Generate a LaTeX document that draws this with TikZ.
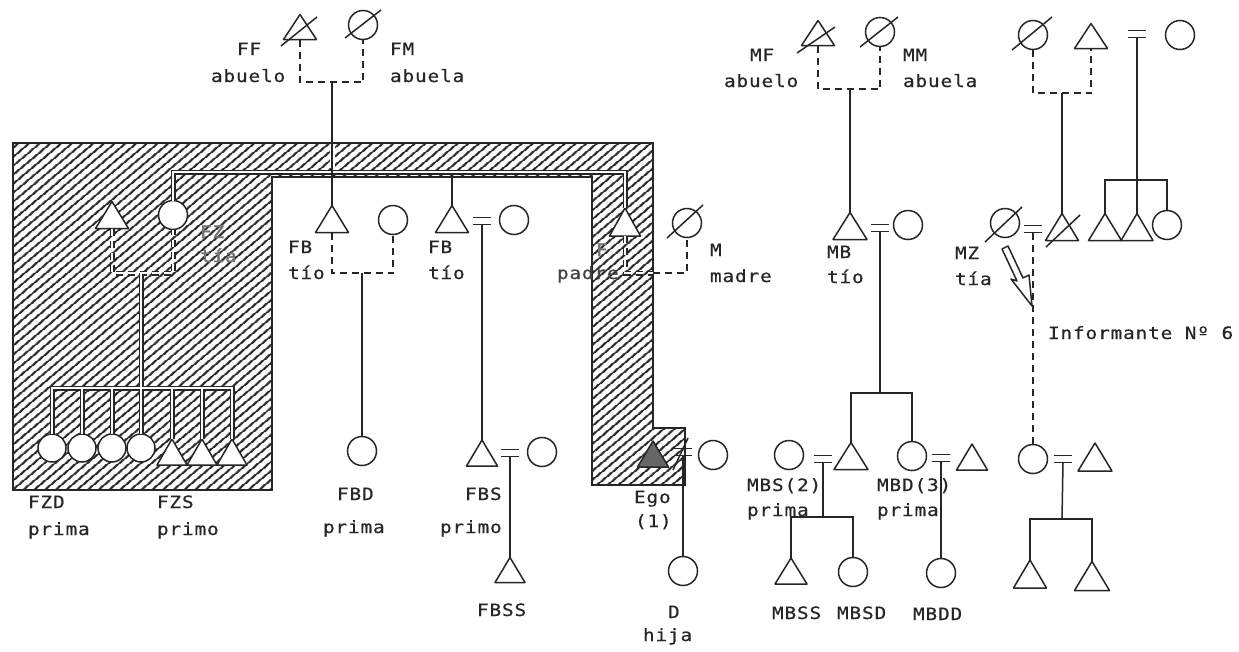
\documentclass[tikz,border=0pt]{standalone}
\usepackage{fontspec}
\newfontfamily\tw[LetterSpace=5,FakeStretch=1.14,FakeBold=0.6]{DejaVu Sans Mono}
\newfontfamily\twb[LetterSpace=5,FakeStretch=1.14,FakeBold=2]{DejaVu Sans Mono}
\usetikzlibrary{calc,patterns.meta}
\begin{document}
\begin{tikzpicture}[x=1pt,y=-1pt,
  every node/.style={inner sep=0pt, outer sep=0pt},
  ln/.style={draw=black!85, line width=1.5pt},
  dsh/.style={ln, dash pattern=on 7pt off 5pt},
  circ/.style={circle, draw=black!85, line width=1.5pt, fill=white, minimum size=29pt},
  tri/.style={minimum width=33pt, minimum height=27pt, append after command={\pgfextra{\pgfinterruptpath
     \draw[draw=black!85, line width=1.5pt, line join=round, fill=white] (\tikzlastnode.north) -- (\tikzlastnode.south east) -- (\tikzlastnode.south west) -- cycle;
     \endpgfinterruptpath}}},
  egotri/.style={minimum width=31pt, minimum height=26pt, append after command={\pgfextra{\pgfinterruptpath
     \draw[draw=black!85, line width=1.5pt, line join=round, fill=black!60] (\tikzlastnode.north) -- (\tikzlastnode.south east) -- (\tikzlastnode.south west) -- cycle;
     \endpgfinterruptpath}}},
  marr/.style={minimum width=18pt, minimum height=7pt, append after command={\pgfextra{\pgfinterruptpath
     \draw[draw=black!85, line width=1.8pt] (\tikzlastnode.north west) -- (\tikzlastnode.north east) (\tikzlastnode.south west) -- (\tikzlastnode.south east);
     \endpgfinterruptpath}}},
  lab/.style={font=\tw\fontsize{17}{20}\selectfont, text=black!85, anchor=base west},
  glab/.style={lab, font=\twb\fontsize{17}{20}\selectfont, text=black!55},
  hatch/.style={pattern={Lines[angle=40,distance=6.5pt,line width=2.1pt]}, pattern color=black!85},
]
\useasboundingbox (0,0) rectangle (1239,651);
\fill[white] (0,0) rectangle (1239,651);

% hatched region
\fill[hatch] (13,143) -- (653,143) -- (653,428) -- (685,428) -- (685,485) -- (592,485) -- (592,177) -- (272,177) -- (272,490) -- (13,490) -- cycle;
\draw[line width=1.5pt, black!85] (13,143) -- (653,143) -- (653,428) -- (685,428) -- (685,485) -- (592,485) -- (592,177) -- (272,177) -- (272,490) -- (13,490) -- cycle;

% ---------- symbols ----------
% grandparents
\node[tri, minimum height=25pt] (ff) at (300,27) {};
\node[circ] (fm) at (363,25) {};
\node[tri, minimum height=25pt] (mf) at (818,33) {};
\node[circ] (mm) at (880,32) {};
\node[circ] (rgm) at (1033,35) {};
\node[tri, minimum height=25pt] (rgf) at (1091,36) {};
\node[marr] (rme) at (1137,34) {};
\node[circ] (rw) at (1180,35) {};
% parents generation
\node[tri] (fztri) at (112,215) {};
\node[circ] (fz) at (173,215) {};
\node[tri] (fb1) at (332,219) {};
\node[circ] (fb1w) at (393,220) {};
\node[tri] (fb2) at (452,219) {};
\node[marr] (fb2e) at (482,221) {};
\node[circ] (fb2w) at (514,220) {};
\node[tri, minimum width=31pt, minimum height=28pt] (f) at (625,222) {};
\node[circ] (m) at (687,223) {};
\node[tri, minimum width=34pt] (mb) at (850,226) {};
\node[marr] (mbe) at (880,228) {};
\node[circ] (mbw) at (908,225) {};
\node[circ] (mz) at (1005,223) {};
\node[marr] (mze) at (1033,229) {};
\node[tri, minimum width=33pt] (mzh) at (1062,227) {};
\node[tri, minimum width=33pt] (s1) at (1105,227) {};
\node[tri, minimum width=32pt] (s2) at (1137,227) {};
\node[circ] (s3) at (1167,225) {};
% children of FZ
\node[circ, minimum size=28pt] (c1) at (52,448) {};
\node[circ, minimum size=28pt] (c2) at (82,448) {};
\node[circ, minimum size=28pt] (c3) at (112,448) {};
\node[circ, minimum size=28pt] (c4) at (141,448) {};
\node[tri, minimum width=30pt, minimum height=26pt] (t1) at (172,452) {};
\node[tri, minimum width=30pt, minimum height=26pt] (t2) at (202,452) {};
\node[tri, minimum width=30pt, minimum height=26pt] (t3) at (232,452) {};
% ego generation
\node[circ] (fbd) at (362,451) {};
\node[tri, minimum width=31pt, minimum height=26pt] (fbs) at (482,453) {};
\node[marr] (fbse) at (510,453) {};
\node[circ] (fbsw) at (542,452) {};
\node[egotri] (ego) at (653,454) {};
\node[marr] (egoe) at (683,452) {};
\node[circ] (egow) at (713,455) {};
\node[circ] (mbsw) at (789,455) {};
\node[marr] (mbse) at (823,459) {};
\node[tri, minimum width=34pt, minimum height=27pt] (mbs) at (851,456) {};
\node[circ] (mbd) at (912,456) {};
\node[marr] (mbde) at (941,458) {};
\node[tri, minimum width=31pt, minimum height=26pt] (mbdh) at (972,457) {};
\node[circ] (mzc) at (1033,459) {};
\node[marr] (mzce) at (1063,459) {};
\node[tri, minimum width=34pt, minimum height=28pt] (mzch) at (1095,457) {};
% next generation
\node[tri, minimum width=30pt, minimum height=25pt] (fbss) at (510,570) {};
\node[circ] (d) at (683,571) {};
\node[tri, minimum width=32pt, minimum height=26pt] (mbss) at (791,571) {};
\node[circ] (mbsd) at (853,572) {};
\node[circ] (mbdd) at (941,573) {};
\node[tri, minimum width=33pt, minimum height=28pt] (g1) at (1030,574) {};
\node[tri, minimum width=35pt, minimum height=29pt] (g2) at (1092,576) {};

% ---------- helper coordinates ----------
\coordinate (gpl) at (332,82);
\coordinate (gpr) at (850,89);
\coordinate (rgp) at (1062,93);
\coordinate (cr) at (1137,180);
\coordinate (sibr) at (625,172);
\coordinate (sib2) at (452,174);
\coordinate (fzp) at (141,273);
\coordinate (fzc) at (141,388);
\coordinate (fb1p) at (362,273);
\coordinate (fmp) at (653,273);
\coordinate (mbc) at (880,393);
\coordinate (mbsc) at (823,517);
\coordinate (mzcc) at (1062,519);

% ---------- channels inside hatch ----------
\foreach \w/\c in {5pt/black!85, 2.4pt/white}{
  \draw[line width=\w, draw=\c] (fz.north) |- (sibr) -- (f.north);
  \draw[line width=\w, draw=\c] (fzp) -- (fzc);
  \draw[line width=\w, draw=\c] (c1.north) |- (fzc) -| (t3.north);
  \foreach \k in {c2,c3,c4,t1,t2} \draw[line width=\w, draw=\c] (\k.north) -- (\k.north |- fzc);
  \draw[line width=\w, draw=\c, dash pattern=on 7pt off 5pt] (fztri.south) |- (fzp) -| (fz.south);
  \draw[line width=\w, draw=\c, dash pattern=on 7pt off 5pt] (f.south) |- (fmp);
}

% ---------- connectors ----------
\draw[dsh] (ff.south) |- (gpl) -| (fm.south);
\draw[white, line width=5pt] (332,144) -- (332,168);
\draw[ln] (gpl) -- (fb1.north);
\draw[dsh] (mf.south) |- (gpr) -| (mm.south);
\draw[ln] (gpr) -- (mb.north);
\draw[dsh] (rgm.south) |- (rgp) -| (rgf.south);
\draw[ln] (rgp) -- (mzh.north);
\draw[ln] (rme.south) -- (cr);
\draw[ln] (s1.north) |- (cr) -| (s3.north);
\draw[ln] (cr) -- (s2.north);
\draw[ln] (sib2) -- (fb2.north);
\draw[dsh] (fb1.south) |- (fb1p) -| (fb1w.south);
\draw[ln] (fb1p) -- (fbd.north);
\draw[ln] (fb2e.south) -- (fbs.north);
\draw[ln] (fbse.south) -- (fbss.north);
\draw[dsh] (fmp) -| (m.south);
\draw[ln] (egoe.south) -- (d.north);
\draw[ln] (mbe.south) -- (mbc);
\draw[ln] (mbs.north) |- (mbc) -| (mbd.north);
\draw[ln] (mbse.south) -- (mbsc);
\draw[ln] (mbss.north) |- (mbsc) -| (mbsd.north);
\draw[ln] (mbde.south) -- (mbdd.north);
\draw[dsh] (mze.south) -- (mzc.north);
\draw[ln] (mzce.south) -- (mzcc);
\draw[ln] (g1.north) |- (mzcc) -| (g2.north);

% deceased slashes
\draw[ln] ($(ff.center)+(-19,19)$) -- ($(ff.center)+(17,-10)$);
\draw[ln] ($(fm.center)+(-18,13)$) -- ($(fm.center)+(18,-15)$);
\draw[ln] ($(mf.center)+(-21,20)$) -- ($(mf.center)+(17,-6)$);
\draw[ln] ($(mm.center)+(-20,15)$) -- ($(mm.center)+(18,-15)$);
\draw[ln] ($(rgm.center)+(-21,15)$) -- ($(rgm.center)+(19,-18)$);
\draw[ln] ($(m.center)+(-20,15)$) -- ($(m.center)+(16,-18)$);
\draw[ln] ($(mz.center)+(-20,19)$) -- ($(mz.center)+(17,-16)$);
\draw[ln] ($(mzh.center)+(-16,20)$) -- ($(mzh.center)+(18,-12)$);
% "not equal" slash at Ego
\draw[ln] ($(egoe.center)+(-10,18)$) -- ($(egoe.center)+(5,-14)$);

% informant arrow
\draw[ln, fill=white, line join=round] (1002,249) -- (1017,281) -- (1011,279) -- (1032,306) -- (1029,275) -- (1023,278) -- (1008,246) -- cycle;

% ---------- labels ----------
\node[lab] (lff) at (237,55) {FF};
\node[lab] (lffa) at (211,82) {abuelo};
\node[lab] (lfm) at (390,55) {FM};
\node[lab] (lfma) at (390,82) {abuela};
\node[lab] (lmf) at (750,61) {MF};
\node[lab] (lmfa) at (724,87) {abuelo};
\node[lab] (lmm) at (903,61) {MM};
\node[lab] (lmma) at (903,87) {abuela};
\node[glab] (lfz) at (200,238) {FZ};
\node[glab] (lfza) at (200,262) {tía};
\node[lab] (lfb1) at (288,253) {FB};
\node[lab] (lfb1a) at (288,279) {tío};
\node[lab] (lfb2) at (428,253) {FB};
\node[lab] (lfb2a) at (428,279) {tío};
\node[glab] (lf) at (596,256) {F};
\node[lab, text=black!75] (lfa) at (557,279) {padre};
\node[lab] (lm) at (710,256) {M};
\node[lab] (lma) at (710,282) {madre};
\node[lab] (lmb) at (827,258) {MB};
\node[lab] (lmba) at (827,283) {tío};
\node[lab] (lmz) at (955,259) {MZ};
\node[lab] (lmza) at (955,285) {tía};
\node[lab] (linf) at (1048,339) {Informante Nº 6};
\node[lab] (lfzd) at (28,508) {FZD};
\node[lab] (lfzda) at (28,535) {prima};
\node[lab] (lfzs) at (157,508) {FZS};
\node[lab] (lfzsa) at (157,535) {primo};
\node[lab] (lfbd) at (337,500) {FBD};
\node[lab] (lfbda) at (323,533) {prima};
\node[lab] (lfbs) at (465,500) {FBS};
\node[lab] (lfbsa) at (440,533) {primo};
\node[lab] (lfbss) at (477,616) {FBSS};
\node[lab] (lego) at (634,503) {Ego};
\node[lab] (lego1) at (635,527) {(1)};
\node[lab] (ld) at (668,618) {D};
\node[lab] (lda) at (643,641) {hija};
\node[lab] (lmbs) at (747,491) {MBS(2)};
\node[lab] (lmbsa) at (747,516) {prima};
\node[lab] (lmbd) at (877,491) {MBD(3)};
\node[lab] (lmbda) at (877,516) {prima};
\node[lab] (lmbss) at (772,619) {MBSS};
\node[lab] (lmbsd) at (837,619) {MBSD};
\node[lab] (lmbdd) at (913,620) {MBDD};
\end{tikzpicture}
\end{document}
